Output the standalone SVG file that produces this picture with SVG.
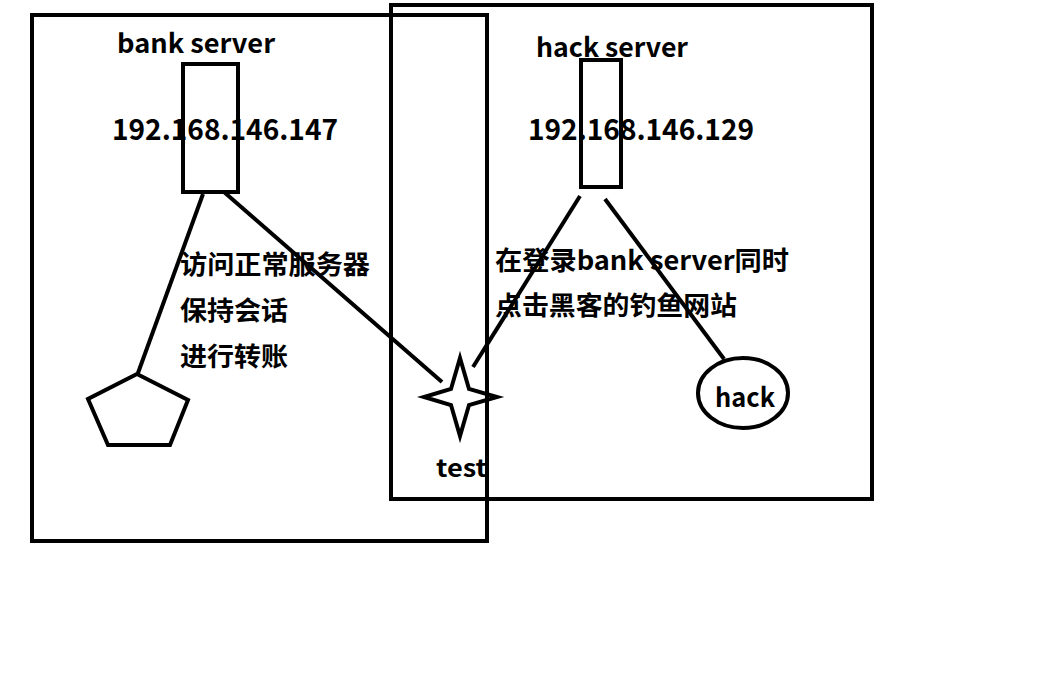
<svg xmlns="http://www.w3.org/2000/svg" width="1057" height="676" viewBox="0 0 1057 676">
<style>
.s{fill:none;stroke:#000;stroke-width:4}
.c{fill:none;stroke:#000;stroke-width:4;stroke-linecap:butt}
.t{font-family:"Noto Sans CJK SC","Open Sans",sans-serif;font-weight:bold;fill:#000}
</style>
<rect width="1057" height="676" fill="#fff"/>
<g id="bank-zone"><rect class="s" x="32" y="15" width="455" height="526"/></g>
<g id="hack-zone"><rect class="s" x="391" y="5" width="481" height="494"/></g>
<g id="connectors">
<line class="c" x1="203" y1="194" x2="138" y2="373"/>
<line class="c" x1="224" y1="192" x2="442" y2="382"/>
<line class="c" x1="580" y1="196" x2="473" y2="367"/>
<line class="c" x1="605" y1="199" x2="724" y2="359"/>
</g>
<g id="bank-server">
<text class="t" x="117" y="53" font-size="26" textLength="158" lengthAdjust="spacingAndGlyphs">bank server</text>
<rect class="s" x="183" y="64" width="55" height="128"/>
<text class="t" x="112" y="140" font-size="29" textLength="226" lengthAdjust="spacingAndGlyphs">192.168.146.147</text>
</g>
<g id="hack-server">
<text class="t" x="536" y="57" font-size="26" textLength="152" lengthAdjust="spacingAndGlyphs">hack server</text>
<rect class="s" x="581" y="60" width="40" height="127"/>
<text class="t" x="528" y="140" font-size="29" textLength="226" lengthAdjust="spacingAndGlyphs">192.168.146.129</text>
</g>
<g id="bank-label">
<text class="t" x="180" y="274" font-size="26" textLength="190" lengthAdjust="spacingAndGlyphs">访问正常服务器</text>
<text class="t" x="180" y="320" font-size="26" textLength="108" lengthAdjust="spacingAndGlyphs">保持会话</text>
<text class="t" x="180" y="366" font-size="26" textLength="108" lengthAdjust="spacingAndGlyphs">进行转账</text>
</g>
<g id="hack-label">
<text class="t" x="495" y="270" font-size="26" textLength="294" lengthAdjust="spacingAndGlyphs">在登录bank server同时</text>
<text class="t" x="495" y="315" font-size="26" textLength="242" lengthAdjust="spacingAndGlyphs">点击黑客的钓鱼网站</text>
</g>
<g id="user">
<polygon class="s" points="137,374 188,400 170,445 108,445 88,399"/>
</g>
<g id="test">
<polygon class="s" stroke-linejoin="miter" points="460,358 469,389 497,397 469,405 460,436 451,405 424,397 451,389"/>
<text class="t" x="436" y="477" font-size="24" textLength="51" lengthAdjust="spacingAndGlyphs">test</text>
</g>
<g id="hack">
<ellipse class="s" cx="743" cy="393" rx="45" ry="35"/>
<text class="t" x="715" y="407" font-size="26" textLength="60" lengthAdjust="spacingAndGlyphs">hack</text>
</g>
</svg>
